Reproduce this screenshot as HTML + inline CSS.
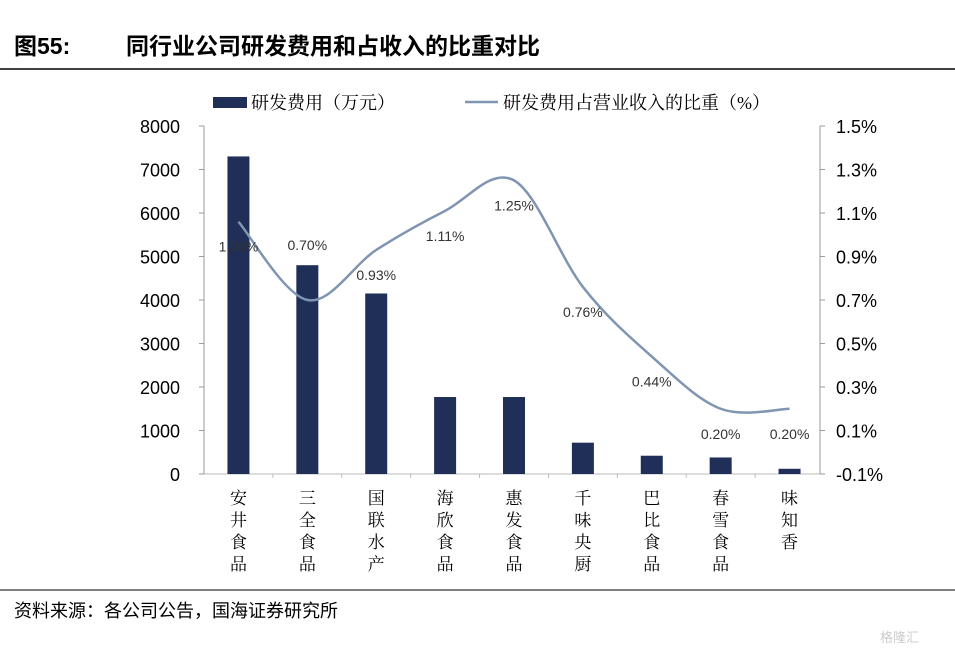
<!DOCTYPE html>
<html><head><meta charset="utf-8"><style>
body{margin:0;background:#fff;width:955px;height:654px;overflow:hidden;font-family:"Liberation Sans","Noto Sans CJK SC",sans-serif}
svg text{font-family:"Liberation Sans","Noto Sans CJK SC",sans-serif}
svg text.serif{font-family:"Liberation Serif","Noto Serif CJK SC",serif}
</style></head><body>
<svg width="955" height="654">
<text x="14" y="54" font-size="23" font-weight="bold" fill="#000">图55:</text>
<text x="126" y="54" font-size="23" font-weight="bold" fill="#000">同行业公司研发费用和占收入的比重对比</text>
<line x1="0" y1="69" x2="955" y2="69" stroke="#000" stroke-width="1.5"/>
<rect x="213" y="97" width="34" height="11" fill="#1f2f57"/>
<text class="serif" x="251" y="109" font-size="18">研发费用（万元）</text>
<line x1="465" y1="102" x2="498" y2="102" stroke="#7f95b1" stroke-width="2.5"/>
<text class="serif" x="503" y="109" font-size="18">研发费用占营业收入的比重（%）</text>
<g id="axes"></g>
<g id="bars"></g>
<g id="line"></g>
<line x1="0" y1="590" x2="955" y2="590" stroke="#000" stroke-width="1"/>
<text x="14" y="617" font-size="18">资料来源：各公司公告，国海证券研究所</text>
<text x="880" y="642" font-size="13" fill="#ccc">格隆汇</text>
</svg>
<script>
const categories=["安井食品","三全食品","国联水产","海欣食品","惠发食品","千味央厨","巴比食品","春雪食品","味知香"];
const rdCost=[7300,4800,4150,1770,1770,720,420,380,120];
const rdRatio=[1.06,0.70,0.93,1.11,1.25,0.76,0.44,0.20,0.20];
const leftTicks=[0,1000,2000,3000,4000,5000,6000,7000,8000];
const rightTicks=[-0.1,0.1,0.3,0.5,0.7,0.9,1.1,1.3,1.5];
const NS="http://www.w3.org/2000/svg";
const X0=204,X1=824,Y0=474,Y1=126;
const cw=(X1-X0)/categories.length;
const xc=i=>X0+cw*(i+0.5);
const yL=v=>Y0-(v/8000)*(Y0-Y1);
const yR=v=>Y0-((v+0.1)/1.6)*(Y0-Y1);
function mk(t,a,p){const e=document.createElementNS(NS,t);for(const k in a)e.setAttribute(k,a[k]);p.appendChild(e);return e;}
const ax=document.getElementById('axes');
const la=mk('line',{x1:X0,y1:Y1,x2:X0,y2:Y0,stroke:'#999'},ax);


const ra=mk('line',{x1:820,y1:Y1,x2:820,y2:Y0,stroke:'#999'},ax);


const xa=mk('line',{x1:X0,y1:Y0,x2:820,y2:Y0,stroke:'#bbb'},ax);


leftTicks.forEach(v=>{const y=yL(v);
mk('line',{x1:X0-5,y1:y,x2:X0,y2:y,stroke:'#999'},ax);
const t=mk('text',{x:180,y:y+7,'font-size':18,'text-anchor':'end'},ax);t.textContent=v;

});
rightTicks.forEach(v=>{const y=yR(v);
mk('line',{x1:820,y1:y,x2:825,y2:y,stroke:'#999'},ax);
const t=mk('text',{x:836,y:y+7,'font-size':18},ax);t.textContent=v.toFixed(1)+'%';

});
for(let i=1;i<categories.length;i++){mk('line',{x1:X0+cw*i,y1:Y0,x2:X0+cw*i,y2:Y0+4,stroke:'#bbb'},ax);}
const bg=document.getElementById('bars');
categories.forEach((c,i)=>{
const r=mk('rect',{x:xc(i)-11,y:yL(rdCost[i]),width:22,height:Y0-yL(rdCost[i]),fill:'#1f2f57'},bg);


const t=mk('text',{'font-size':17,'text-anchor':'middle','class':'serif'},bg);


[...c].forEach((ch,j)=>{const s=mk('tspan',{x:xc(i),y:504+j*22},t);s.textContent=ch;});
});
const lg=document.getElementById('line');
const pts=rdRatio.map((v,i)=>[xc(i),yR(v)]);
let d='M'+pts[0][0]+','+pts[0][1];
for(let i=0;i<pts.length-1;i++){
const p0=pts[Math.max(i-1,0)],p1=pts[i],p2=pts[i+1],p3=pts[Math.min(i+2,pts.length-1)];
const c1=[p1[0]+(p2[0]-p0[0])/6,p1[1]+(p2[1]-p0[1])/6],c2=[p2[0]-(p3[0]-p1[0])/6,p2[1]-(p3[1]-p1[1])/6];
d+=` C${c1[0]},${c1[1]} ${c2[0]},${c2[1]} ${p2[0]},${p2[1]}`;}
const pl=mk('path',{d:d,fill:'none',stroke:'#7f95b1','stroke-width':2.5},lg);


rdRatio.forEach((v,i)=>{
const t=mk('text',{x:xc(i),y:yR(v)+(i==1?-50:30),'font-size':14,'fill':'#333','text-anchor':'middle'},lg);
t.textContent=v.toFixed(2)+'%';

});
</script>
</body></html>
